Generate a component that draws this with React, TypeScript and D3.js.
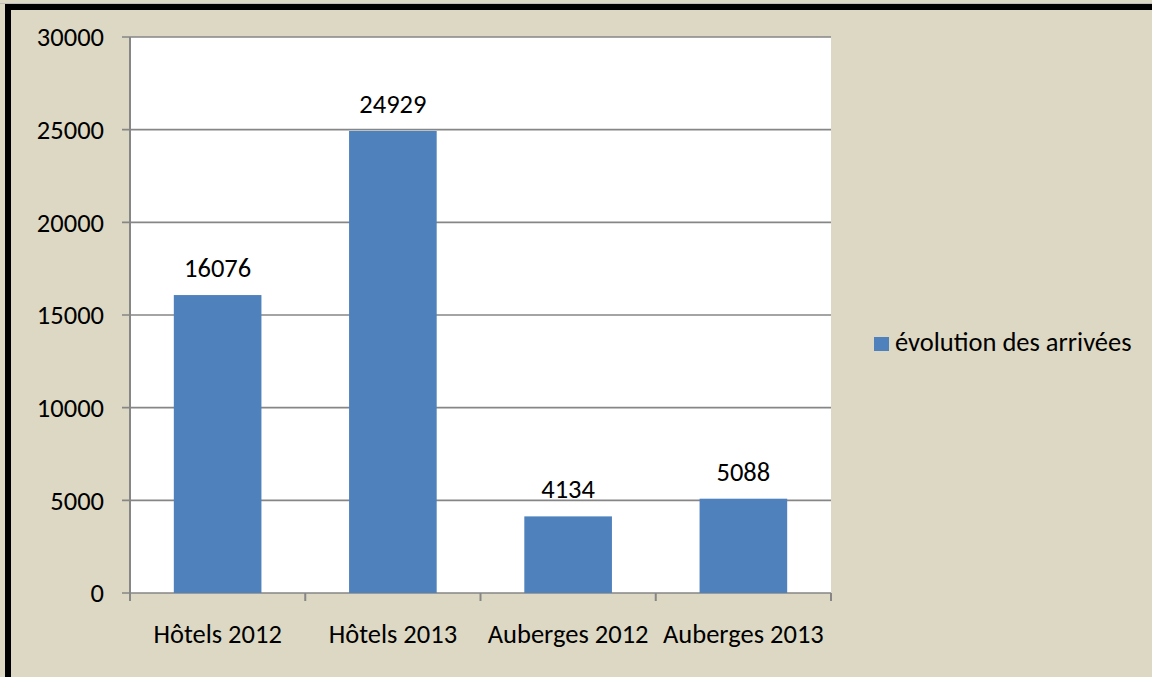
import React from "react";
import * as d3 from "d3";

const categories = ["Hôtels 2012", "Hôtels 2013", "Auberges 2012", "Auberges 2013"];
const values = [16076, 24929, 4134, 5088];
const yTicks = [0, 5000, 10000, 15000, 20000, 25000, 30000];
const seriesName = "évolution des arrivées";

export default function App() {
  const W = 1152, H = 677;
  const left = 130, right = 831, top = 37, bottom = 593;
  const x = d3.scaleBand<string>().domain(categories).range([left, right]).paddingInner(0.5).paddingOuter(0.25);
  const y = d3.scaleLinear().domain([0, 30000]).range([bottom, top]);
  const font = "Carlito, Calibri, Lato, sans-serif";
  const fs = 26.5;
  const boundaries = d3.range(categories.length + 1).map(i => left + (i * (right - left)) / categories.length);
  return (
    <svg width={W} height={H} style={{ position: "absolute", left: 0, top: 0 }} fontFamily={font}>
      <rect x={0} y={0} width={W} height={H} fill="#DDD8C3" />
      <line x1={0} x2={W} y1={3.5} y2={3.5} stroke="#bdbdbd" strokeWidth={1} />
      <rect x={5} y={4} width={W - 5} height={6} fill="#000" />
      <rect x={5} y={4} width={6} height={H - 4} fill="#000" />
      <rect x={left} y={top} width={right - left} height={bottom - top} fill="#fff" />
      {yTicks.map(t => (
        <g key={t}>
          <line x1={122} x2={right} y1={y(t)} y2={y(t)} stroke="#868686" strokeWidth={1.7} />
          <text x={104} y={y(t)} dy="0.35em" textAnchor="end" fontSize={fs} fill="#000">{t}</text>
        </g>
      ))}
      <line x1={left} x2={left} y1={top} y2={bottom + 8} stroke="#868686" strokeWidth={2} />
      {boundaries.map((b, i) => (
        <line key={i} x1={b} x2={b} y1={bottom} y2={bottom + 8} stroke="#868686" strokeWidth={2} />
      ))}
      {categories.map((c, i) => (
        <g key={c}>
          <rect x={x(c)!} y={y(values[i])} width={x.bandwidth()} height={bottom - y(values[i])} fill="#4F81BD" />
          <text x={x(c)! + x.bandwidth() / 2} y={y(values[i]) - 18} textAnchor="middle" fontSize={fs} fill="#000">{values[i]}</text>
          <text x={x(c)! + x.bandwidth() / 2} y={643} textAnchor="middle" fontSize={fs} fill="#000">{c}</text>
        </g>
      ))}
      <rect x={874} y={337} width={15} height={14} fill="#4F81BD" />
      <text x={895} y={351} fontSize={fs} fill="#000">{seriesName}</text>
    </svg>
  );
}
